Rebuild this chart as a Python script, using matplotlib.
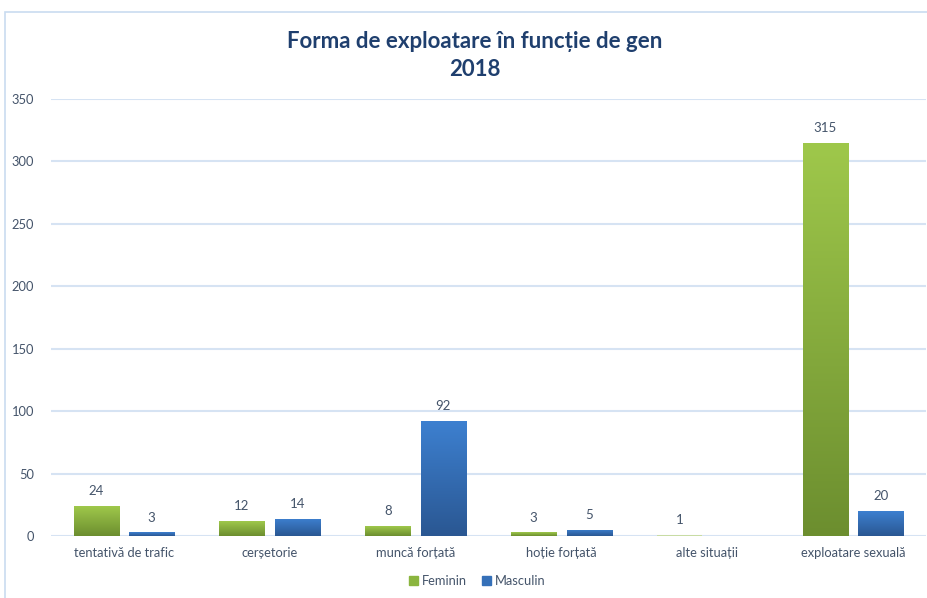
import numpy as np
import matplotlib.pyplot as plt
from matplotlib.colors import LinearSegmentedColormap
from matplotlib.patches import Rectangle

categories = ['tentativă de trafic', 'cerșetorie', 'muncă forțată',
              'hoție forțată', 'alte situații', 'exploatare sexuală']
feminin = [24, 12, 8, 3, 1, 315]
masculin = [3, 14, 92, 5, 0, 20]

plt.rcParams['font.family'] = ['Lato', 'DejaVu Sans']
text_col = '#44546a'

fig = plt.figure(figsize=(9.28, 5.98), dpi=100)
fig.patches.append(Rectangle((5 / 928, -0.01), 1.0, (598 - 12) / 598 + 0.01,
                             transform=fig.transFigure, fill=False,
                             edgecolor='#c9dcf0', linewidth=1.2))
ax = fig.add_axes([51 / 928, (598 - 536) / 598, 875 / 928, 437 / 598])

x = np.arange(len(categories))
w = 0.31
off = 0.19

green = LinearSegmentedColormap.from_list('g', ['#6c8e2f', '#9fc84b'])
blue = LinearSegmentedColormap.from_list('b', ['#2a5792', '#3d80d0'])
grad = np.linspace(0, 1, 256).reshape(-1, 1)


def gradient_bars(bars, cmap):
    for b in bars:
        h = b.get_height()
        if h <= 0:
            continue
        if h < 2:
            # tiny bar shows up pale in the original
            b.set_facecolor('#c8dca4')
            continue
        x0 = b.get_x()
        im = ax.imshow(grad, cmap=cmap, origin='lower', aspect='auto',
                       extent=[x0, x0 + b.get_width(), 0, h], zorder=2)
        im.set_clip_path(b)
        b.set_facecolor('none')


b1 = ax.bar(x - off, feminin, w, color='#9fc84b', edgecolor='none', zorder=2, label='Feminin')
b2 = ax.bar(x + off, masculin, w, color='#3d80d0', edgecolor='none', zorder=2, label='Masculin')
gradient_bars(b1, green)
gradient_bars(b2, blue)

for xi, v in zip(x - off, feminin):
    if v > 0:
        ax.text(xi, v + 7, str(v), ha='center', va='bottom', fontsize=9.5, color=text_col)
for xi, v in zip(x + off, masculin):
    if v > 0:
        ax.text(xi, v + 7, str(v), ha='center', va='bottom', fontsize=9.5, color=text_col)

ax.set_xlim(-0.5, len(categories) - 0.5)
ax.set_ylim(0, 350)
ax.set_yticks(range(0, 351, 50))
ax.set_xticks(x)
ax.set_xticklabels(categories)
ax.tick_params(axis='both', length=0, labelsize=9.3, labelcolor=text_col)
ax.tick_params(axis='y', pad=12)
ax.tick_params(axis='x', pad=8)
ax.grid(axis='y', color='#d6e3f3', linewidth=1.5, zorder=0)
ax.set_axisbelow(True)
for s in ax.spines.values():
    s.set_visible(False)

fig.text(475 / 928, 1 - 42 / 598, 'Forma de exploatare în funcție de gen',
         ha='center', va='center', fontsize=16, fontweight='bold', color='#1f3f6e')
fig.text(475 / 928, 1 - 70 / 598, '2018',
         ha='center', va='center', fontsize=16, fontweight='bold', color='#1f3f6e')

leg = fig.legend(handles=[Rectangle((0, 0), 1, 1, color='#8bb53f'),
                          Rectangle((0, 0), 1, 1, color='#3570b8')],
                 labels=['Feminin', 'Masculin'], loc='center',
                 bbox_to_anchor=(477 / 928, 1 - 581 / 598), ncol=2, frameon=False,
                 fontsize=9.3, handlelength=0.7, handleheight=0.7, handletextpad=0.3,
                 columnspacing=1.2)
for t in leg.get_texts():
    t.set_color(text_col)

fig.savefig('out.png', dpi=100)
